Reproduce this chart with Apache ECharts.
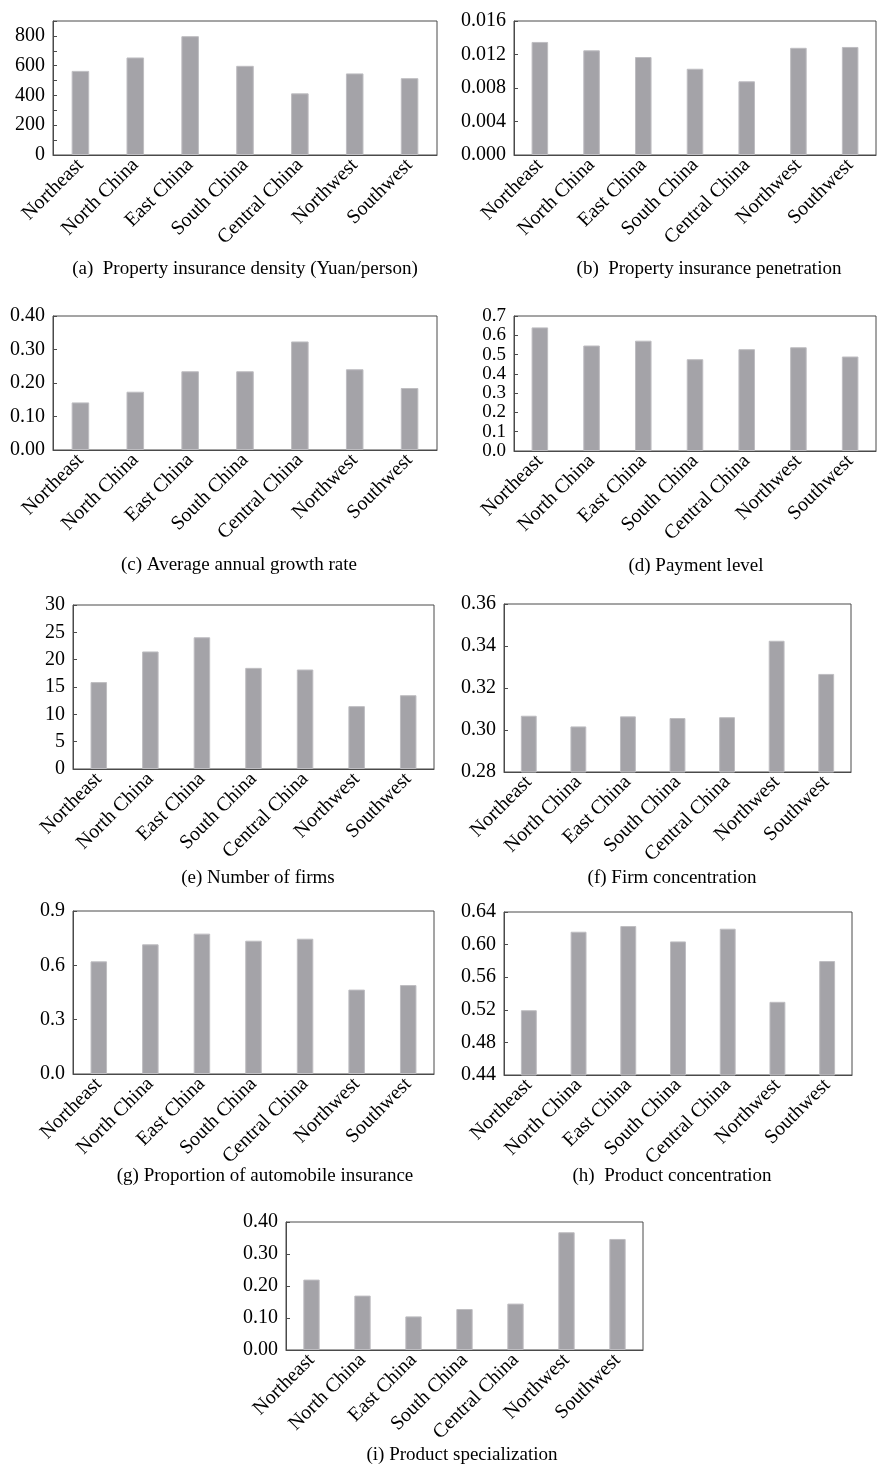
<!DOCTYPE html>
<html>
<head>
<meta charset="utf-8">
<script src="https://cdn.jsdelivr.net/npm/echarts@6/dist/echarts.min.js"></script>
<style>
html,body{margin:0;padding:0;background:#fff;}
#chart{width:878px;height:1466px;}
</style>
</head>
<body>
<div id="chart"></div>
<script>
// ---------- data ----------
const categories = ['Northeast', 'North China', 'East China', 'South China', 'Central China', 'Northwest', 'Southwest'];

const densityValues        = [565, 655, 798, 599, 414, 548, 516];
const penetrationValues    = [0.0135, 0.0125, 0.0117, 0.0103, 0.0088, 0.0128, 0.0129];
const growthValues         = [0.142, 0.174, 0.235, 0.235, 0.324, 0.241, 0.185];
const paymentValues        = [0.641, 0.547, 0.572, 0.476, 0.528, 0.538, 0.490];
const firmsValues          = [15.9, 21.5, 24.1, 18.5, 18.2, 11.5, 13.5];
const firmConcValues       = [0.3068, 0.3017, 0.3065, 0.3057, 0.3061, 0.3425, 0.3267];
const autoValues           = [0.622, 0.716, 0.775, 0.736, 0.747, 0.466, 0.491];
const productConcValues    = [0.5195, 0.6158, 0.6228, 0.6039, 0.6195, 0.5298, 0.5798];
const specializationValues = [0.220, 0.170, 0.105, 0.128, 0.145, 0.368, 0.347];

const captions = [
  '(a)  Property insurance density (Yuan/person)',
  '(b)  Property insurance penetration',
  '(c) Average annual growth rate',
  '(d) Payment level',
  '(e) Number of firms',
  '(f) Firm concentration',
  '(g) Proportion of automobile insurance',
  '(h)  Product concentration',
  '(i) Product specialization'
];

// y axis ranges: min, max, tick interval, labelled step, decimals
const yMinA = 0,    yMaxA = 900,   yTickA = 100,   yLabelA = 200,   yDecA = 0;
const yMinB = 0,    yMaxB = 0.016, yTickB = 0.004, yLabelB = 0.004, yDecB = 3;
const yMinC = 0,    yMaxC = 0.40,  yTickC = 0.10,  yLabelC = 0.10,  yDecC = 2;
const yMinD = 0,    yMaxD = 0.7,   yTickD = 0.1,   yLabelD = 0.1,   yDecD = 1;
const yMinE = 0,    yMaxE = 30,    yTickE = 5,     yLabelE = 5,     yDecE = 0;
const yMinF = 0.28, yMaxF = 0.36,  yTickF = 0.02,  yLabelF = 0.02,  yDecF = 2;
const yMinG = 0,    yMaxG = 0.9,   yTickG = 0.3,   yLabelG = 0.3,   yDecG = 1;
const yMinH = 0.44, yMaxH = 0.64,  yTickH = 0.04,  yLabelH = 0.04,  yDecH = 2;
const yMinI = 0,    yMaxI = 0.40,  yTickI = 0.10,  yLabelI = 0.10,  yDecI = 2;

// ---------- layout ----------
const panels = [
  {vals: densityValues,        min: yMinA, max: yMaxA, tick: yTickA, lab: yLabelA, dec: yDecA, fs: 20, grid: {left: 53,  top: 21,   width: 384, height: 134}, cap: [245, 260]},
  {vals: penetrationValues,    min: yMinB, max: yMaxB, tick: yTickB, lab: yLabelB, dec: yDecB, fs: 20, grid: {left: 514, top: 21,   width: 362, height: 134}, cap: [709, 260]},
  {vals: growthValues,         min: yMinC, max: yMaxC, tick: yTickC, lab: yLabelC, dec: yDecC, fs: 20, grid: {left: 53,  top: 316,  width: 384, height: 134}, cap: [239, 556]},
  {vals: paymentValues,        min: yMinD, max: yMaxD, tick: yTickD, lab: yLabelD, dec: yDecD, fs: 19, grid: {left: 514, top: 316,  width: 362, height: 135}, cap: [696, 557]},
  {vals: firmsValues,          min: yMinE, max: yMaxE, tick: yTickE, lab: yLabelE, dec: yDecE, fs: 20, grid: {left: 73,  top: 605,  width: 361, height: 164}, cap: [258, 869]},
  {vals: firmConcValues,       min: yMinF, max: yMaxF, tick: yTickF, lab: yLabelF, dec: yDecF, fs: 20, grid: {left: 504, top: 604,  width: 347, height: 168}, cap: [672, 869]},
  {vals: autoValues,           min: yMinG, max: yMaxG, tick: yTickG, lab: yLabelG, dec: yDecG, fs: 20, grid: {left: 73,  top: 911,  width: 361, height: 163}, cap: [265, 1167]},
  {vals: productConcValues,    min: yMinH, max: yMaxH, tick: yTickH, lab: yLabelH, dec: yDecH, fs: 20, grid: {left: 504, top: 912,  width: 348, height: 163}, cap: [672, 1167]},
  {vals: specializationValues, min: yMinI, max: yMaxI, tick: yTickI, lab: yLabelI, dec: yDecI, fs: 20, grid: {left: 286, top: 1222, width: 357, height: 128}, cap: [462, 1446]}
];

const FONT = '"Liberation Serif", "Times New Roman", serif';
const LINE = '#4a4a4a';
const TXT = '#000000';

const grids = [], xAxes = [], yAxes = [], series = [], titles = [];
panels.forEach((p, i) => {
  grids.push(Object.assign({show: true, borderColor: LINE, borderWidth: 1, backgroundColor: 'transparent'}, p.grid));
  xAxes.push({
    type: 'category', gridIndex: i, data: categories,
    axisLine: {show: true, lineStyle: {color: LINE, width: 1}},
    axisTick: {show: false},
    axisLabel: {interval: 0, rotate: 45, margin: 7, fontFamily: FONT, fontSize: 20, color: TXT}
  });
  yAxes.push({
    type: 'value', gridIndex: i, min: p.min, max: p.max, interval: p.tick,
    splitLine: {show: false},
    axisLine: {show: true, lineStyle: {color: LINE, width: 1}},
    axisTick: {show: true, inside: true, length: 4, lineStyle: {color: LINE}},
    axisLabel: {
      margin: 8, fontFamily: FONT, fontSize: p.fs, color: TXT,
      showMinLabel: true, showMaxLabel: true, hideOverlap: false,
      formatter: function (v) {
        const k = Math.round((v - p.min) / p.lab * 1000) / 1000;
        if (Math.abs(k - Math.round(k)) > 1e-6) return '';
        if (i === 0 && v > 800) return '';
        return v.toFixed(p.dec);
      }
    }
  });
  series.push({
    type: 'bar', xAxisIndex: i, yAxisIndex: i, data: p.vals, barWidth: '32%',
    itemStyle: {color: '#a4a3a8', borderColor: '#bebdc1', borderWidth: 1},
    animation: false, clip: true
  });
  titles.push({
    text: captions[i], left: p.cap[0], top: p.cap[1], textAlign: 'center', padding: 0,
    textStyle: {fontFamily: FONT, fontSize: 19, fontWeight: 'normal', color: TXT}
  });
});

const chart = echarts.init(document.getElementById('chart'), null, {renderer: 'canvas'});
chart.setOption({
  animation: false,
  backgroundColor: '#ffffff',
  title: titles,
  grid: grids,
  xAxis: xAxes,
  yAxis: yAxes,
  series: series
});
</script>
</body>
</html>
